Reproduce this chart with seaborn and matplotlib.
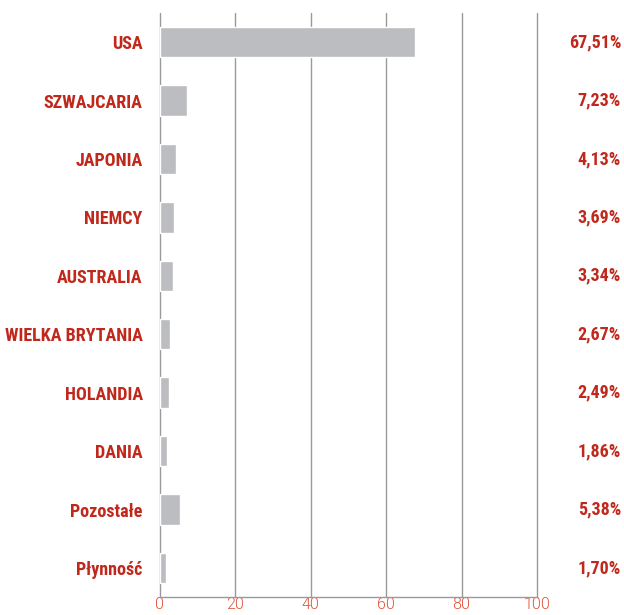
import matplotlib.pyplot as plt
import pandas as pd
import seaborn as sns

# Data
countries = ["USA", "SZWAJCARIA", "JAPONIA", "NIEMCY", "AUSTRALIA",
             "WIELKA BRYTANIA", "HOLANDIA", "DANIA", "Pozostałe", "Płynność"]
shares = [67.51, 7.23, 4.13, 3.69, 3.34, 2.67, 2.49, 1.86, 5.38, 1.70]
share_labels = ["67,51%", "7,23%", "4,13%", "3,69%", "3,34%",
                "2,67%", "2,49%", "1,86%", "5,38%", "1,70%"]

df = pd.DataFrame({"country": countries, "share": shares})

sns.set_style("white")
plt.rcParams["font.family"] = ["Roboto Condensed", "DejaVu Sans"]

red = "#c0281c"
fig = plt.figure(figsize=(6.24, 6.15), dpi=100)
ax = fig.add_axes([0.2564, 0.029, 0.6042, 0.95])

sns.barplot(data=df, x="share", y="country", color="#bcbdc0",
            saturation=1, width=0.52, ax=ax)

ax.set_xlim(0, 100)
ax.set_ylim(9.5, -0.5)
ax.set_xticks([0, 20, 40, 60, 80, 100])
ax.grid(True, axis="x", color="#999999", linewidth=1.0)
ax.set_axisbelow(True)
# keep the edge gridlines (0 and 100) fully visible
for gl in ax.get_xgridlines():
    gl.set_clip_on(False)
for side in ["top", "right", "left"]:
    ax.spines[side].set_visible(False)
ax.spines["bottom"].set_color("#999999")
ax.spines["bottom"].set_linewidth(1.0)

ax.set_xlabel("")
ax.set_ylabel("")
ax.tick_params(axis="y", length=0, pad=12.5, labelsize=13, labelcolor=red)
ax.tick_params(axis="x", length=0, pad=0, labelsize=11.5, labelcolor="#e0553d")
for lbl in ax.get_yticklabels():
    lbl.set_fontweight("bold")
for lbl in ax.get_xticklabels():
    lbl.set_family(["Roboto", "DejaVu Sans"])
    lbl.set_fontweight(300)

# percentage labels on the right side
for i, txt in enumerate(share_labels):
    ax.text(1.223, i, txt, transform=ax.get_yaxis_transform(),
            ha="right", va="center", fontsize=13, fontweight="bold", color=red)

plt.savefig("out.png", dpi=100)
plt.close()
